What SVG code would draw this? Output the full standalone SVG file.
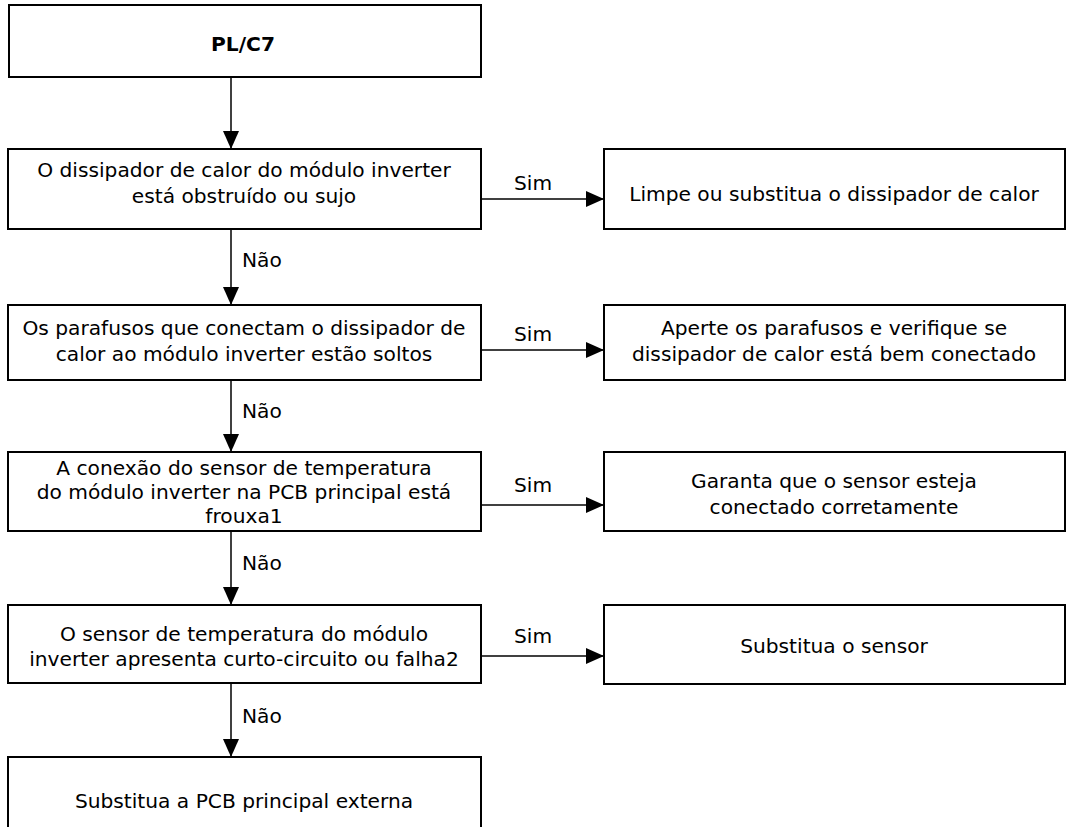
<svg xmlns="http://www.w3.org/2000/svg" width="1068" height="827" viewBox="0 0 1068 827">
<style>
.box{fill:#fff;stroke:#000;stroke-width:2}
.t{font-family:"DejaVu Sans","Liberation Sans",sans-serif;font-size:20.2px;fill:#000;text-anchor:middle}
.b{font-weight:bold}
.l{font-family:"DejaVu Sans","Liberation Sans",sans-serif;font-size:20.2px;fill:#000}
.c{stroke:#000;stroke-width:1.5;fill:none;marker-end:url(#ah)}
</style>
<defs>
<marker id="ah" markerUnits="userSpaceOnUse" markerWidth="20" markerHeight="16" refX="18" refY="8" orient="auto">
<path d="M0,0 L18,8 L0,16 Z" fill="#000"/>
</marker>
</defs>
<g id="n1"><rect class="box" x="9" y="5" width="472" height="72"/><text class="t b" x="243" y="51">PL/C7</text></g>
<g id="n2"><rect class="box" x="8" y="149" width="473" height="80"/><text class="t" x="244" y="177">O dissipador de calor do módulo inverter</text><text class="t" x="244" y="203">está obstruído ou sujo</text></g>
<g id="n3"><rect class="box" x="604" y="149" width="461" height="80"/><text class="t" x="834" y="201">Limpe ou substitua o dissipador de calor</text></g>
<g id="n4"><rect class="box" x="8" y="305" width="473" height="75"/><text class="t" x="244" y="335">Os parafusos que conectam o dissipador de</text><text class="t" x="244" y="361">calor ao módulo inverter estão soltos</text></g>
<g id="n5"><rect class="box" x="604" y="305" width="461" height="75"/><text class="t" x="834" y="335">Aperte os parafusos e verifique se</text><text class="t" x="834" y="361">dissipador de calor está bem conectado</text></g>
<g id="n6"><rect class="box" x="8" y="452" width="473" height="79"/><text class="t" x="244" y="475">A conexão do sensor de temperatura</text><text class="t" x="244" y="499">do módulo inverter na PCB principal está</text><text class="t" x="244" y="523">frouxa1</text></g>
<g id="n7"><rect class="box" x="604" y="452" width="461" height="79"/><text class="t" x="834" y="488">Garanta que o sensor esteja</text><text class="t" x="834" y="514">conectado corretamente</text></g>
<g id="n8"><rect class="box" x="8" y="605" width="473" height="78"/><text class="t" x="244" y="641">O sensor de temperatura do módulo</text><text class="t" x="244" y="666">inverter apresenta curto-circuito ou falha2</text></g>
<g id="n9"><rect class="box" x="604" y="605" width="461" height="79"/><text class="t" x="834" y="653">Substitua o sensor</text></g>
<g id="n10"><rect class="box" x="8" y="757" width="473" height="80"/><text class="t" x="244" y="808">Substitua a PCB principal externa</text></g>
<g id="connectors">
<line class="c" x1="231" y1="77" x2="231" y2="149"/>
<line class="c" x1="231" y1="229" x2="231" y2="305"/>
<line class="c" x1="231" y1="380" x2="231" y2="452"/>
<line class="c" x1="231" y1="531" x2="231" y2="605"/>
<line class="c" x1="231" y1="683" x2="231" y2="757"/>
<line class="c" x1="481" y1="199" x2="604" y2="199"/>
<line class="c" x1="481" y1="350" x2="604" y2="350"/>
<line class="c" x1="481" y1="505" x2="604" y2="505"/>
<line class="c" x1="481" y1="656" x2="604" y2="656"/>
<text class="l" x="514" y="190">Sim</text>
<text class="l" x="514" y="341">Sim</text>
<text class="l" x="514" y="492">Sim</text>
<text class="l" x="514" y="643">Sim</text>
<text class="l" x="242" y="267">Não</text>
<text class="l" x="242" y="418">Não</text>
<text class="l" x="242" y="570">Não</text>
<text class="l" x="242" y="723">Não</text>
</g>
</svg>
